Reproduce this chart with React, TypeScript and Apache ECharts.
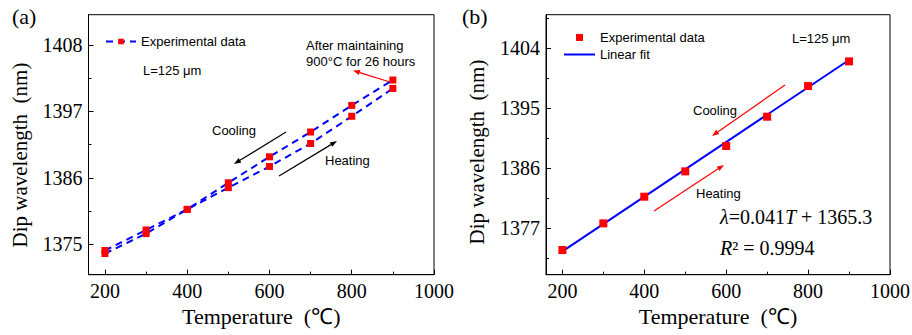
import React, { useEffect, useRef } from 'react';
import * as echarts from 'echarts';

// ---------- data ----------
const temps = [200, 300, 400, 500, 600, 700, 800, 900];
const coolingA = [1374.0, 1377.4, 1380.8, 1385.2, 1389.5, 1393.6, 1398.0, 1402.2];
const heatingA = [1373.5, 1376.8, 1380.8, 1384.4, 1387.9, 1391.7, 1396.2, 1400.8];
const measuredB = [1373.7, 1377.7, 1381.7, 1385.5, 1389.3, 1393.7, 1398.3, 1402.0];
const fitT = [200, 900];
const fitB = [1373.5, 1402.2];

const xTicks = [200, 400, 600, 800, 1000];
const xMinor = [300, 500, 700, 900];
const yTicksA = [1375, 1386, 1397, 1408];
const yMinorA = [1380.5, 1391.5, 1402.5];
const yTicksB = [1377, 1386, 1395, 1404];
const yMinorB = [1372.5, 1381.5, 1390.5, 1399.5, 1408.5];

const X_TITLE = 'Temperature  (℃)';
const Y_TITLE = 'Dip wavelength  (nm)';

const SERIF = '"Liberation Serif", "Times New Roman", serif';
const SANS = '"Liberation Sans", Arial, sans-serif';
const BLUE = '#0000ff';
const RED = '#ff0000';

function majorAxis(kind: 'x' | 'y', grid: number, min: number, max: number, ticks: number[], name?: string, gap?: number) {
  return {
    type: 'value',
    gridIndex: grid,
    position: kind === 'x' ? 'bottom' : 'left',
    min,
    max,
    name: name || '',
    nameLocation: 'middle',
    nameGap: gap || 0,
    nameTextStyle: { fontFamily: SERIF, fontSize: 22, color: '#000' },
    axisLine: { show: true, lineStyle: { color: '#000', width: 1 } },
    axisTick: { show: true, inside: true, length: 5, customValues: ticks, lineStyle: { color: '#000', width: 1 } },
    axisLabel: {
      show: true,
      customValues: ticks,
      margin: 6,
      fontFamily: SERIF,
      fontSize: 20,
      color: '#000',
      formatter: (v: number) => String(v),
    },
    splitLine: { show: false },
    minorTick: { show: false },
  };
}

function minorAxis(kind: 'x' | 'y', grid: number, min: number, max: number, ticks: number[]) {
  return {
    type: 'value',
    gridIndex: grid,
    position: kind === 'x' ? 'bottom' : 'left',
    min,
    max,
    axisLine: { show: false },
    axisTick: { show: true, inside: true, length: 3, customValues: ticks, lineStyle: { color: '#000', width: 1 } },
    axisLabel: { show: false },
    splitLine: { show: false },
  };
}

function arrow(x1: number, y1: number, x2: number, y2: number, color: string) {
  const ang = Math.atan2(y2 - y1, x2 - x1);
  const L = 7;
  const W = 2.6;
  const bx = x2 - L * Math.cos(ang);
  const by = y2 - L * Math.sin(ang);
  const px = -Math.sin(ang) * W;
  const py = Math.cos(ang) * W;
  return [
    { type: 'line', silent: true, shape: { x1, y1, x2: bx, y2: by }, style: { stroke: color, lineWidth: 1.2 } },
    { type: 'polygon', silent: true, shape: { points: [[x2, y2], [bx + px, by + py], [bx - px, by - py]] }, style: { fill: color } },
  ];
}

function label(text: string, x: number, y: number, size = 13, family = SANS, align = 'left') {
  return {
    type: 'text',
    silent: true,
    x,
    y,
    style: { text, fontFamily: family, fontSize: size, fill: '#000', verticalAlign: 'middle', align },
  };
}

function yTitle(x: number, y: number) {
  return {
    type: 'text',
    silent: true,
    x,
    y,
    rotation: Math.PI / 2,
    style: { text: Y_TITLE, fontFamily: SERIF, fontSize: 21, fill: '#000', align: 'center', verticalAlign: 'middle' },
  };
}

const SQUARE = 'path://M0,0L10,0L10,10L0,10Z';

export default function App() {
  const ref = useRef<HTMLDivElement>(null);

  useEffect(() => {
    if (!ref.current) return;
    const chart = echarts.init(ref.current, undefined, { renderer: 'svg' });

    const option: any = {
      animation: false,
      backgroundColor: '#fff',
      grid: [
        { left: 88.5, top: 14.7, width: 345.5, height: 260, show: true, borderColor: '#000', borderWidth: 1, backgroundColor: 'transparent', outerBoundsMode: 'none' },
        { left: 546, top: 14.7, width: 344, height: 260, show: true, borderColor: '#000', borderWidth: 1, backgroundColor: 'transparent', outerBoundsMode: 'none' },
      ],
      xAxis: [
        majorAxis('x', 0, 160, 1000, xTicks, X_TITLE, 29),
        minorAxis('x', 0, 160, 1000, xMinor),
        majorAxis('x', 1, 160, 1000, xTicks, X_TITLE, 29),
        minorAxis('x', 1, 160, 1000, xMinor),
      ],
      yAxis: [
        majorAxis('y', 0, 1370, 1413, yTicksA),
        minorAxis('y', 0, 1370, 1413, yMinorA),
        majorAxis('y', 1, 1370, 1409, yTicksB),
        minorAxis('y', 1, 1370, 1409, yMinorB),
      ],
      legend: [
        {
          data: ['Experimental data'],
          left: 100,
          top: 30,
          padding: 5,
          itemWidth: 30,
          itemHeight: 7,
          selectedMode: false,
          textStyle: { fontFamily: SANS, fontSize: 13, color: '#000' },
        },
        {
          data: [
            { name: 'Experimental data (b)', icon: SQUARE },
            { name: 'Linear fit', itemStyle: { opacity: 0 } },
          ],
          orient: 'vertical',
          left: 558,
          top: 26,
          padding: 5,
          itemWidth: 31,
          itemHeight: 7,
          itemGap: 4,
          selectedMode: false,
          formatter: (n: string) => (n === 'Experimental data (b)' ? 'Experimental data' : n),
          textStyle: { fontFamily: SANS, fontSize: 13, color: '#000' },
        },
      ],
      series: [
        {
          type: 'line',
          name: 'Experimental data',
          xAxisIndex: 0,
          yAxisIndex: 0,
          data: temps.map((t, i) => [t, coolingA[i]]),
          symbol: 'rect',
          symbolSize: 7,
          itemStyle: { color: RED },
          lineStyle: { color: BLUE, width: 2, type: [7, 5] },
          z: 3,
        },
        {
          type: 'line',
          name: 'Experimental data',
          xAxisIndex: 0,
          yAxisIndex: 0,
          data: temps.map((t, i) => [t, heatingA[i]]),
          symbol: 'rect',
          symbolSize: 7,
          itemStyle: { color: RED },
          lineStyle: { color: BLUE, width: 2, type: [7, 5] },
          z: 3,
        },
        {
          type: 'line',
          name: 'Linear fit',
          xAxisIndex: 2,
          yAxisIndex: 2,
          data: fitT.map((t, i) => [t, fitB[i]]),
          symbol: 'none',
          showSymbol: false,
          itemStyle: { color: BLUE },
          lineStyle: { color: BLUE, width: 2 },
          z: 2,
        },
        {
          type: 'scatter',
          name: 'Experimental data (b)',
          xAxisIndex: 2,
          yAxisIndex: 2,
          data: temps.map((t, i) => [t, measuredB[i]]),
          symbol: 'rect',
          symbolSize: 8,
          itemStyle: { color: RED, opacity: 1 },
          z: 3,
        },
      ],
      graphic: [
        label('(a)', 12, 16, 22, SERIF),
        label('(b)', 462, 16, 22, SERIF),
        yTitle(20, 155),
        yTitle(477, 152),
        // panel (a)
        label('L=125 μm', 143, 70),
        label('After maintaining', 306, 45),
        label('900°C for 26 hours', 306, 61),
        ...arrow(390, 82, 353, 70.5, RED),
        label('Cooling', 212, 130),
        ...arrow(286, 132, 234, 164, '#000'),
        label('Heating', 325, 160),
        ...arrow(279, 176, 337, 141, '#000'),
        // panel (b)
        label('L=125 μm', 792, 38),
        label('Cooling', 693, 110),
        ...arrow(785, 85, 712, 136, RED),
        label('Heating', 696, 193),
        ...arrow(654, 211, 724, 165, RED),
        {
          type: 'text',
          silent: true,
          x: 720,
          y: 217,
          style: {
            text: '{i|λ}=0.041{i|T} + 1365.3',
            fontFamily: SERIF,
            fontSize: 20,
            fill: '#000',
            verticalAlign: 'middle',
            rich: { i: { fontFamily: SERIF, fontSize: 20, fontStyle: 'italic', fill: '#000' } },
          },
        },
        {
          type: 'text',
          silent: true,
          x: 720,
          y: 248,
          style: {
            text: '{i|R}² = 0.9994',
            fontFamily: SERIF,
            fontSize: 20,
            fill: '#000',
            verticalAlign: 'middle',
            rich: { i: { fontFamily: SERIF, fontSize: 20, fontStyle: 'italic', fill: '#000' } },
          },
        },
      ],
    };

    chart.setOption(option);
    return () => chart.dispose();
  }, []);

  return <div ref={ref} style={{ position: 'absolute', left: 0, top: 0, width: 912, height: 335 }} />;
}
